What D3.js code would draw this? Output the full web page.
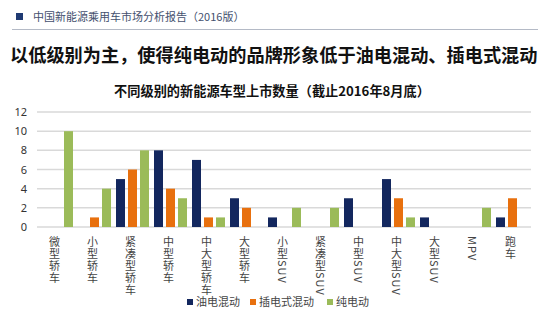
<!DOCTYPE html>
<html><head><meta charset="utf-8">
<script src="https://cdn.jsdelivr.net/npm/d3@7"></script>
<style>
html,body{margin:0;padding:0;background:#fff;}
svg{display:block;font-family:"Noto Sans CJK SC","Noto Sans",sans-serif;}
</style></head>
<body><svg id="c" width="550" height="322"></svg>
<script>
const headerText = "中国新能源乘用车市场分析报告（2016版）";
const titleText = "以低级别为主，使得纯电动的品牌形象低于油电混动、插电式混动";
const subtitleText = "不同级别的新能源车型上市数量（截止2016年8月底）";
const categories = ["微型轿车","小型轿车","紧凑型轿车","中型轿车","中大型轿车","大型轿车","小型SUV","紧凑型SUV","中型SUV","中大型SUV","大型SUV","MPV","跑车"];
const seriesNames = ["油电混动","插电式混动","纯电动"];
const hevValues = [0,0,5,8,7,3,1,0,3,5,1,0,1];
const phevValues = [0,1,6,4,1,2,0,0,0,3,0,0,3];
const bevValues = [10,4,8,3,1,0,2,2,0,1,0,2,0];
const yTicks = [0,2,4,6,8,10,12];
const colors = ["#13275e","#e8700e","#9bbb59"];

const svg = d3.select("#c");
// header
svg.append("rect").attr("x",16).attr("y",13).attr("width",7).attr("height",7).attr("fill","#1f3a73");
svg.append("text").attr("x",33).attr("y",21).attr("font-size",11).attr("fill","#44506e").text(headerText);
svg.append("line").attr("x1",12).attr("x2",538).attr("y1",29.5).attr("y2",29.5).attr("stroke","#b4bac6").attr("stroke-width",1);
svg.append("text").attr("x",10).attr("y",62).attr("font-size",18.2).attr("font-weight","bold").attr("fill","#111").text(titleText);
svg.append("text").attr("x",272).attr("y",96).attr("text-anchor","middle").attr("font-size",13.2).attr("font-weight","bold").attr("fill","#111").text(subtitleText);

const x0 = d3.scaleBand().domain(categories).range([37,531]).padding(0);
const x1 = d3.scaleBand().domain(seriesNames).range([3, x0.bandwidth()-2]).paddingInner(0.25).paddingOuter(0);
const y = d3.scaleLinear().domain([0,12]).range([227,112]);

// grid
svg.append("g").selectAll("line").data(yTicks).join("line")
  .attr("x1",37).attr("x2",531).attr("y1",d=>y(d)).attr("y2",d=>y(d))
  .attr("stroke","#d9d9d9").attr("stroke-width",1.5);

const yAxis = svg.append("g").attr("transform","translate(30,0)")
  .call(d3.axisLeft(y).tickValues(yTicks).tickSize(0).tickPadding(3));
yAxis.select(".domain").remove();
yAxis.selectAll("text").attr("font-size",11).attr("fill","#333").attr("font-family","'Noto Sans','Noto Sans CJK SC',sans-serif");

const table = categories.map((c,i)=>({cat:c, vals:[hevValues[i],phevValues[i],bevValues[i]]}));
const groups = svg.append("g").selectAll("g").data(table).join("g")
  .attr("transform",d=>`translate(${x0(d.cat)},0)`);
groups.selectAll("rect").data(d=>d.vals.map((v,k)=>({s:seriesNames[k],v,k}))).join("rect")
  .attr("x",d=>x1(d.s)).attr("width",x1.bandwidth())
  .attr("y",d=>y(d.v)).attr("height",d=>y(0)-y(d.v))
  .attr("fill",d=>colors[d.k]);

// vertical category labels
svg.append("g").selectAll("text").data(categories).join("text")
  .attr("x",d=>x0(d)+x0.bandwidth()/2-1.5).attr("y",236)
  .attr("font-size",11).attr("fill","#444")
  .style("writing-mode","vertical-rl")
  .attr("letter-spacing",1)
  .text(d=>d);

// legend
const legX = [187,250,327];
const leg = svg.append("g").selectAll("g").data(seriesNames).join("g")
  .attr("transform",(d,i)=>`translate(${legX[i]},0)`);
leg.append("rect").attr("x",0).attr("y",299).attr("width",6).attr("height",6).attr("fill",(d,i)=>colors[i]);
leg.append("text").attr("x",9).attr("y",306).attr("font-size",11).attr("fill","#444").text(d=>d);
</script></body></html>
